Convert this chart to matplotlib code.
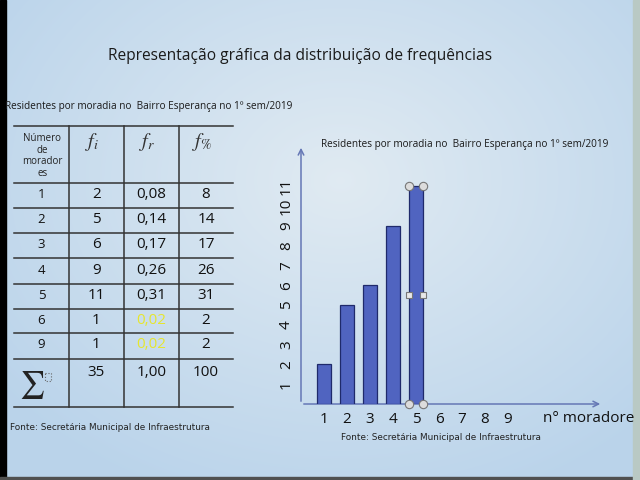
import numpy as np
import matplotlib
matplotlib.use('Agg')
import matplotlib.pyplot as plt
from matplotlib.patches import Rectangle

plt.rcParams['font.family'] = ['Open Sans', 'DejaVu Sans']
plt.rcParams['mathtext.fontset'] = 'stix'

# dados da tabela
moradores = ['1', '2', '3', '4', '5', '6', '9']
fi = ['2', '5', '6', '9', '11', '1', '1']
fr = ['0,08', '0,14', '0,17', '0,26', '0,31', '0,02', '0,02']
fp = ['8', '14', '17', '26', '31', '2', '2']
totais = ['35', '1,00', '100']
cabecalho = ['Número\nde\nmorador\nes', r'$f_i$', r'$f_r$', r'$f_{\%}$']

# dados do gráfico (só as barras já desenhadas no slide)
barras_x = [1, 2, 3, 4, 5]
barras_h = [2, 5, 6, 9, 11]
xticks = [1, 2, 3, 4, 5, 6, 7, 8, 9]
yticks = [1, 2, 3, 4, 5, 6, 7, 8, 9, 10, 11]

titulo = 'Representação gráfica da distribuição de frequências'
subtitulo = 'Residentes por moradia no  Bairro Esperança no 1º sem/2019'
fonte = 'Fonte: Secretária Municipal de Infraestrutura'

fig = plt.figure(figsize=(6.4, 4.8), dpi=100)

# fundo do slide em coordenadas de pixel
bg = fig.add_axes([0, 0, 1, 1])
bg.set_xlim(0, 640)
bg.set_ylim(480, 0)
bg.axis('off')

yy, xx = np.mgrid[0:480, 0:640]
d = np.sqrt(((xx - 340) / 430.0) ** 2 + ((yy - 180) / 340.0) ** 2)
d = np.clip(d, 0, 1)[..., None]
c_meio = np.array([0.88, 0.92, 0.95])
c_borda = np.array([0.73, 0.83, 0.92])
img = c_meio * (1 - d) + c_borda * d
bg.imshow(img, extent=(0, 640, 480, 0), aspect='auto', zorder=0)
bg.add_patch(Rectangle((0, 0), 6, 480, color='black', zorder=1))
bg.add_patch(Rectangle((0, 477), 640, 3, color='#505050', zorder=1))
bg.add_patch(Rectangle((633, 0), 7, 480, color='#b9c9c4', zorder=1))

bg.text(300, 56, titulo, ha='center', va='center', fontsize=11.2, color='#1a1a1a')
bg.text(5, 107, subtitulo, ha='left', va='center', fontsize=7.2, color='#1a1a1a')

# tabela
cols = [14, 69, 124, 179, 233]
linhas = [126, 183, 208, 233, 258, 284, 309, 333, 359, 407]
for y in linhas:
    bg.plot([cols[0], cols[-1]], [y, y], color='#333333', lw=1.1, zorder=2)
for x in cols[1:-1]:
    bg.plot([x, x], [linhas[0], linhas[-1]], color='#333333', lw=1.1, zorder=2)

centros = [(cols[i] + cols[i + 1]) / 2 for i in range(4)]
bg.text(centros[0] + 1, 156, cabecalho[0], ha='center', va='center',
        fontsize=7, color='#222222', linespacing=1.05)
for j in range(1, 4):
    bg.text(centros[j] - 4, 142, cabecalho[j], ha='center', va='center',
            fontsize=14.5, color='#333333')

for i in range(len(moradores)):
    yc = (linhas[i + 1] + linhas[i + 2]) / 2
    valores = [moradores[i], fi[i], fr[i], fp[i]]
    for j in range(4):
        cor = '#111111'
        if j == 2 and fr[i] == '0,02':
            cor = '#e6e62e'
        tam = 9.5 if j == 0 else 11
        bg.text(centros[j], yc - 1, valores[j], ha='center', va='center',
                fontsize=tam, color=cor)

bg.text(32, 385, r'$\sum$', ha='center', va='center', fontsize=20, color='#222222')
bg.add_patch(Rectangle((45, 373), 6, 8, fill=False, ls=':', lw=0.8,
                       ec='#666666', zorder=3))
for j in range(1, 4):
    bg.text(centros[j], 372, totais[j - 1], ha='center', va='center',
            fontsize=11, color='#111111')

bg.text(10, 428, fonte, ha='left', va='center', fontsize=6.4, color='#222222',
        family='DejaVu Sans')

# gráfico de barras
px_x0, px_x1, px_y0, px_y1 = 301, 603, 404, 145
ax = fig.add_axes([px_x0 / 640, (480 - px_y0) / 480,
                   (px_x1 - px_x0) / 640, (px_y0 - px_y1) / 480])
ax.patch.set_alpha(0)
ax.set_xlim(0, (px_x1 - px_x0) / 23.0)
ax.set_ylim(0, (px_y0 - px_y1) / 19.8)
for s in ax.spines.values():
    s.set_visible(False)

cor_eixo = '#6577b5'
ax.annotate('', xy=(1, 0), xytext=(0, 0), xycoords='axes fraction',
            arrowprops=dict(arrowstyle='->', color=cor_eixo, lw=1.1))
ax.annotate('', xy=(0, 1), xytext=(0, 0), xycoords='axes fraction',
            arrowprops=dict(arrowstyle='->', color=cor_eixo, lw=1.1))

larg = 0.65
ax.bar(barras_x, barras_h, width=larg, color='#5064c0', edgecolor='#1f2a6b',
       linewidth=0.9, zorder=3)

# alças de seleção da última barra
xs = barras_x[-1]
hs = barras_h[-1]
for dx in (-larg / 2, larg / 2):
    ax.plot([xs + dx, xs + dx], [hs, 0], 'o', ms=6, mfc='#dcdcdc', mec='#777777',
            mew=0.8, clip_on=False, zorder=5)
    ax.plot(xs + dx, hs / 2, 's', ms=5, mfc='#e8e8e8', mec='#777777',
            mew=0.8, clip_on=False, zorder=5)

ax.set_xticks(xticks)
ax.set_xticklabels([str(v) for v in xticks], fontsize=11, color='#111111')
ax.set_yticks(yticks)
ax.set_yticklabels([str(v) for v in yticks], fontsize=11, color='#111111',
                   rotation=90, va='center')
ax.tick_params(axis='both', length=0)
ax.tick_params(axis='x', pad=6)
ax.tick_params(axis='y', pad=5)

bg.text(543, 419, 'n° moradore', ha='left', va='center', fontsize=11,
        color='#111111')
bg.text(465, 144, subtitulo, ha='center', va='center', fontsize=7.2,
        color='#1a1a1a')
bg.text(441, 438, fonte, ha='center', va='center', fontsize=6.4,
        color='#222222', family='DejaVu Sans')

fig.savefig('out.png', dpi=100)
